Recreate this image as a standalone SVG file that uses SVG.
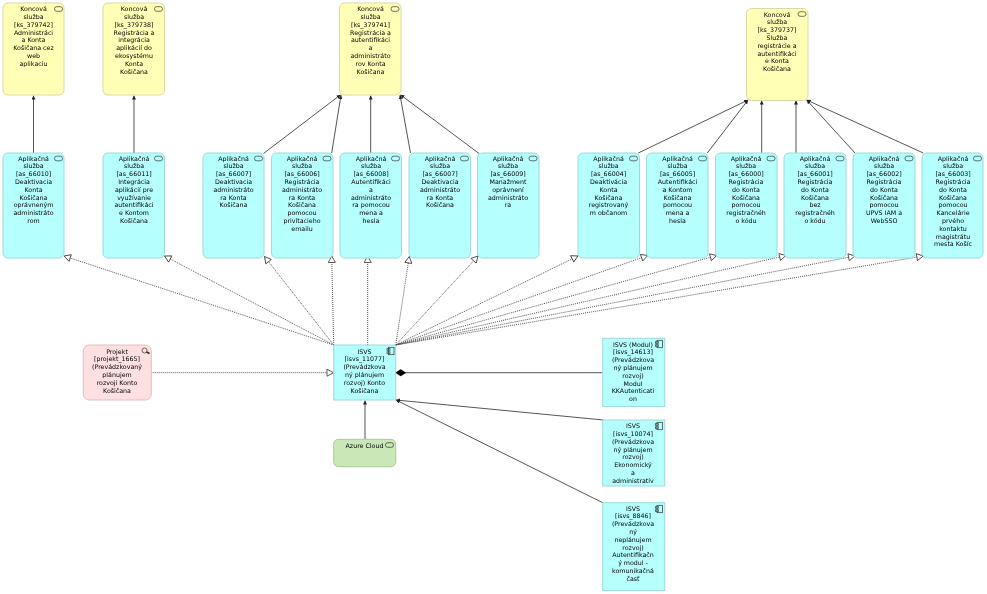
<svg xmlns="http://www.w3.org/2000/svg" width="987" height="594" viewBox="0 0 987 594">
<style>
text{font-family:"DejaVu Sans",sans-serif;font-size:6.3px;fill:#000;text-anchor:middle}
.y{fill:#ffffb5;stroke:#d9d9a6;stroke-width:1}
.c{fill:#b5ffff;stroke:#9fd9d9;stroke-width:1}
.p{fill:#ffe0e0;stroke:#e0bfbf;stroke-width:1}
.g{fill:#c9e7b7;stroke:#a9c99a;stroke-width:1}
.i{fill:none;stroke:#333;stroke-width:.7}
.s{fill:none;stroke:#555;stroke-width:1;marker-end:url(#a)}
.d{fill:none;stroke:#444;stroke-width:.9;stroke-dasharray:1 1;marker-end:url(#t)}
</style>
<defs>
<filter id="soft" x="0" y="0" width="1" height="1"><feGaussianBlur stdDeviation="0.35"/></filter>
<marker id="a" viewBox="0 0 6 6" refX="6" refY="3" markerWidth="4" markerHeight="4" markerUnits="userSpaceOnUse" orient="auto"><path d="M0 0L6 3L0 6z" fill="#222"/></marker>
<marker id="t" viewBox="0 0 8 8" refX="7.500" refY="4" markerWidth="8" markerHeight="8" markerUnits="userSpaceOnUse" orient="auto"><path d="M1 .5L7.500 4L1 7.500z" fill="#fff" stroke="#333" stroke-width=".8" stroke-dasharray="none"/></marker>
<g id="svc"><rect x="-4" y="-2.300" width="8" height="4.600" rx="2.200" class="i"/></g>
<g id="cmp"><rect x="-2" y="-3.700" width="5.500" height="7.400" class="i"/><rect x="-3.500" y="-2.300" width="3" height="1.500" class="i"/><rect x="-3.500" y=".8" width="3" height="1.500" class="i"/></g>
</defs>
<g filter="url(#soft)">
<rect width="987" height="594" fill="#fff"/>
<g id="connectors">
<path class="s" d="M33.500 153V95.500"/>
<path class="s" d="M134 153V95.500"/>
<path class="s" d="M263.500 153.500L340.500 94.800"/>
<path class="s" d="M331.700 153L341 95"/>
<path class="s" d="M370.700 153V95.500"/>
<path class="s" d="M410.500 153L400 95"/>
<path class="s" d="M479 153.500L400.500 94.800"/>
<path class="s" d="M638.300 153L748 100"/>
<path class="s" d="M707.300 153L748 100"/>
<path class="s" d="M761.700 153V100.500"/>
<path class="s" d="M796 153V100.500"/>
<path class="s" d="M855 153L806.700 100"/>
<path class="s" d="M923.300 153L806.700 100"/>
<path class="d" d="M333.700 345L64 256"/>
<path class="d" d="M333.700 345L164.500 256"/>
<path class="d" d="M333.700 345L264.500 256.500"/>
<path class="d" d="M333.700 345L331.700 256"/>
<path class="d" d="M367.700 345V256"/>
<path class="d" d="M395.700 345L409.300 256.500"/>
<path class="d" d="M395.700 345L478 256"/>
<path class="d" d="M395.700 345L578 256"/>
<path class="d" d="M395.700 345L647.700 255.500"/>
<path class="d" d="M395.700 345L716.700 255.500"/>
<path class="d" d="M395.700 345L786 255.500"/>
<path class="d" d="M395.700 345L855 256"/>
<path class="d" d="M395.700 345L923.300 256"/>
<path class="d" d="M151.300 372.700H333.500"/>
<path d="M602.700 372.700H400" fill="none" stroke="#555"/>
<path d="M395.200 372.700L400.700 369.200L406.200 372.700L400.700 376.200z" fill="#000"/>
<path class="s" d="M365 439.300V400.500"/>
<path class="s" d="M603.300 420L396 400"/>
<path class="s" d="M603.300 503L396 400"/>
</g>
<g id="ks_379742"><rect class="y" x="3" y="3" width="61" height="92" rx="5"/><use href="#svc" x="58.500" y="9"/><text><tspan x="33.500" y="11.200">Koncová</tspan><tspan x="33.500" dy="7.800">služba</tspan><tspan x="33.500" dy="7.800">[ks_379742]</tspan><tspan x="33.500" dy="7.800">Administráci</tspan><tspan x="33.500" dy="7.800">a Konta</tspan><tspan x="33.500" dy="7.800">Košičana cez</tspan><tspan x="33.500" dy="7.800">web</tspan><tspan x="33.500" dy="7.800">aplikaciu</tspan></text></g>
<g id="ks_379738"><rect class="y" x="103" y="3" width="61.500" height="92" rx="5"/><use href="#svc" x="158.500" y="9"/><text><tspan x="134" y="11.200">Koncová</tspan><tspan x="134" dy="7.800">služba</tspan><tspan x="134" dy="7.800">[ks_379738]</tspan><tspan x="134" dy="7.800">Registrácia a</tspan><tspan x="134" dy="7.800">integrácia</tspan><tspan x="134" dy="7.800">aplikácií do</tspan><tspan x="134" dy="7.800">ekosystému</tspan><tspan x="134" dy="7.800">Konta</tspan><tspan x="134" dy="7.800">Košičana</tspan></text></g>
<g id="ks_379741"><rect class="y" x="339.500" y="3" width="61.500" height="92" rx="5"/><use href="#svc" x="395" y="9"/><text><tspan x="370.500" y="11.200">Koncová</tspan><tspan x="370.500" dy="7.800">služba</tspan><tspan x="370.500" dy="7.800">[ks_379741]</tspan><tspan x="370.500" dy="7.800">Registrácia a</tspan><tspan x="370.500" dy="7.800">autentifikáci</tspan><tspan x="370.500" dy="7.800">a</tspan><tspan x="370.500" dy="7.800">administráto</tspan><tspan x="370.500" dy="7.800">rov Konta</tspan><tspan x="370.500" dy="7.800">Košičana</tspan></text></g>
<g id="ks_379737"><rect class="y" x="746.500" y="8.500" width="61.500" height="92" rx="5"/><use href="#svc" x="802" y="14"/><text><tspan x="777" y="16.500">Koncová</tspan><tspan x="777" dy="7.800">služba</tspan><tspan x="777" dy="7.800">[ks_379737]</tspan><tspan x="777" dy="7.800">Služba</tspan><tspan x="777" dy="7.800">registrácie a</tspan><tspan x="777" dy="7.800">autentifikáci</tspan><tspan x="777" dy="7.800">e Konta</tspan><tspan x="777" dy="7.800">Košičana</tspan></text></g>
<g id="as_66010"><rect class="c" x="3" y="153" width="61" height="105" rx="5"/><use href="#svc" x="58.500" y="158.500"/><text><tspan x="33.500" y="160.500">Aplikačná</tspan><tspan x="33.500" dy="7.800">služba</tspan><tspan x="33.500" dy="7.800">[as_66010]</tspan><tspan x="33.500" dy="7.800">Deaktivacia</tspan><tspan x="33.500" dy="7.800">Konta</tspan><tspan x="33.500" dy="7.800">Košičana</tspan><tspan x="33.500" dy="7.800">oprávneným</tspan><tspan x="33.500" dy="7.800">administráto</tspan><tspan x="33.500" dy="7.800">rom</tspan></text></g>
<g id="as_66011"><rect class="c" x="103" y="153" width="61.500" height="105" rx="5"/><use href="#svc" x="158.500" y="158.500"/><text><tspan x="134" y="160.500">Aplikačná</tspan><tspan x="134" dy="7.800">služba</tspan><tspan x="134" dy="7.800">[as_66011]</tspan><tspan x="134" dy="7.800">Integrácia</tspan><tspan x="134" dy="7.800">aplikácií pre</tspan><tspan x="134" dy="7.800">využívanie</tspan><tspan x="134" dy="7.800">autentifikáci</tspan><tspan x="134" dy="7.800">e Kontom</tspan><tspan x="134" dy="7.800">Košičana</tspan></text></g>
<g id="as_66007a"><rect class="c" x="203" y="153" width="61" height="105" rx="5"/><use href="#svc" x="258.500" y="158.500"/><text><tspan x="233.500" y="160.500">Aplikačná</tspan><tspan x="233.500" dy="7.800">služba</tspan><tspan x="233.500" dy="7.800">[as_66007]</tspan><tspan x="233.500" dy="7.800">Deaktivacia</tspan><tspan x="233.500" dy="7.800">administráto</tspan><tspan x="233.500" dy="7.800">ra Konta</tspan><tspan x="233.500" dy="7.800">Košičana</tspan></text></g>
<g id="as_66006"><rect class="c" x="271.500" y="153" width="61.500" height="105" rx="5"/><use href="#svc" x="327" y="158.500"/><text><tspan x="302" y="160.500">Aplikačná</tspan><tspan x="302" dy="7.800">služba</tspan><tspan x="302" dy="7.800">[as_66006]</tspan><tspan x="302" dy="7.800">Registrácia</tspan><tspan x="302" dy="7.800">administráto</tspan><tspan x="302" dy="7.800">ra Konta</tspan><tspan x="302" dy="7.800">Košičana</tspan><tspan x="302" dy="7.800">pomocou</tspan><tspan x="302" dy="7.800">privítacieho</tspan><tspan x="302" dy="7.800">emailu</tspan></text></g>
<g id="as_66008"><rect class="c" x="340" y="153" width="61.500" height="105" rx="5"/><use href="#svc" x="395.500" y="158.500"/><text><tspan x="371" y="160.500">Aplikačná</tspan><tspan x="371" dy="7.800">služba</tspan><tspan x="371" dy="7.800">[as_66008]</tspan><tspan x="371" dy="7.800">Autentifikáci</tspan><tspan x="371" dy="7.800">a</tspan><tspan x="371" dy="7.800">administráto</tspan><tspan x="371" dy="7.800">ra pomocou</tspan><tspan x="371" dy="7.800">mena a</tspan><tspan x="371" dy="7.800">hesla</tspan></text></g>
<g id="as_66007b"><rect class="c" x="409" y="153" width="61.500" height="105" rx="5"/><use href="#svc" x="464.500" y="158.500"/><text><tspan x="440" y="160.500">Aplikačná</tspan><tspan x="440" dy="7.800">služba</tspan><tspan x="440" dy="7.800">[as_66007]</tspan><tspan x="440" dy="7.800">Deaktivacia</tspan><tspan x="440" dy="7.800">administráto</tspan><tspan x="440" dy="7.800">ra Konta</tspan><tspan x="440" dy="7.800">Košičana</tspan></text></g>
<g id="as_66009"><rect class="c" x="477.500" y="153" width="61.500" height="105" rx="5"/><use href="#svc" x="533" y="158.500"/><text><tspan x="508" y="160.500">Aplikačná</tspan><tspan x="508" dy="7.800">služba</tspan><tspan x="508" dy="7.800">[as_66009]</tspan><tspan x="508" dy="7.800">Manažment</tspan><tspan x="508" dy="7.800">oprávnení</tspan><tspan x="508" dy="7.800">administráto</tspan><tspan x="508" dy="7.800">ra</tspan></text></g>
<g id="as_66004"><rect class="c" x="578" y="153" width="61.500" height="105" rx="5"/><use href="#svc" x="633.500" y="158.500"/><text><tspan x="608.500" y="160.500">Aplikačná</tspan><tspan x="608.500" dy="7.800">služba</tspan><tspan x="608.500" dy="7.800">[as_66004]</tspan><tspan x="608.500" dy="7.800">Deaktivácia</tspan><tspan x="608.500" dy="7.800">Konta</tspan><tspan x="608.500" dy="7.800">Košičana</tspan><tspan x="608.500" dy="7.800">registrovaný</tspan><tspan x="608.500" dy="7.800">m občanom</tspan></text></g>
<g id="as_66005"><rect class="c" x="646.500" y="153" width="61.500" height="105" rx="5"/><use href="#svc" x="702.500" y="158.500"/><text><tspan x="677.500" y="160.500">Aplikačná</tspan><tspan x="677.500" dy="7.800">služba</tspan><tspan x="677.500" dy="7.800">[as_66005]</tspan><tspan x="677.500" dy="7.800">Autentifikáci</tspan><tspan x="677.500" dy="7.800">a Kontom</tspan><tspan x="677.500" dy="7.800">Košičana</tspan><tspan x="677.500" dy="7.800">pomocou</tspan><tspan x="677.500" dy="7.800">mena a</tspan><tspan x="677.500" dy="7.800">hesla</tspan></text></g>
<g id="as_66000"><rect class="c" x="715.500" y="153" width="61.500" height="105" rx="5"/><use href="#svc" x="771" y="158.500"/><text><tspan x="746" y="160.500">Aplikačná</tspan><tspan x="746" dy="7.800">služba</tspan><tspan x="746" dy="7.800">[as_66000]</tspan><tspan x="746" dy="7.800">Registrácia</tspan><tspan x="746" dy="7.800">do Konta</tspan><tspan x="746" dy="7.800">Košičana</tspan><tspan x="746" dy="7.800">pomocou</tspan><tspan x="746" dy="7.800">registračnéh</tspan><tspan x="746" dy="7.800">o kódu</tspan></text></g>
<g id="as_66001"><rect class="c" x="784" y="153" width="62" height="105" rx="5"/><use href="#svc" x="840" y="158.500"/><text><tspan x="815" y="160.500">Aplikačná</tspan><tspan x="815" dy="7.800">služba</tspan><tspan x="815" dy="7.800">[as_66001]</tspan><tspan x="815" dy="7.800">Registrácia</tspan><tspan x="815" dy="7.800">do Konta</tspan><tspan x="815" dy="7.800">Košičana</tspan><tspan x="815" dy="7.800">bez</tspan><tspan x="815" dy="7.800">registračnéh</tspan><tspan x="815" dy="7.800">o kódu</tspan></text></g>
<g id="as_66002"><rect class="c" x="853" y="153" width="62" height="105" rx="5"/><use href="#svc" x="909" y="158.500"/><text><tspan x="884" y="160.500">Aplikačná</tspan><tspan x="884" dy="7.800">služba</tspan><tspan x="884" dy="7.800">[as_66002]</tspan><tspan x="884" dy="7.800">Registrácia</tspan><tspan x="884" dy="7.800">do Konta</tspan><tspan x="884" dy="7.800">Košičana</tspan><tspan x="884" dy="7.800">pomocou</tspan><tspan x="884" dy="7.800">UPVS IAM a</tspan><tspan x="884" dy="7.800">WebSSO</tspan></text></g>
<g id="as_66003"><rect class="c" x="922" y="153" width="61" height="105" rx="5"/><use href="#svc" x="977.500" y="158.500"/><text><tspan x="953" y="160.500">Aplikačná</tspan><tspan x="953" dy="7.800">služba</tspan><tspan x="953" dy="7.800">[as_66003]</tspan><tspan x="953" dy="7.800">Registrácia</tspan><tspan x="953" dy="7.800">do Konta</tspan><tspan x="953" dy="7.800">Košičana</tspan><tspan x="953" dy="7.800">pomocou</tspan><tspan x="953" dy="7.800">Kancelárie</tspan><tspan x="953" dy="7.800">prvého</tspan><tspan x="953" dy="7.800">kontaktu</tspan><tspan x="953" dy="7.800">magistrátu</tspan><tspan x="953" dy="7.800">mesta Košíc</tspan></text></g>
<g id="projekt_1665"><rect class="p" x="83.300" y="345" width="68" height="55" rx="6"/><circle cx="144.500" cy="350.500" r="2.500" class="i"/><path d="M146.500 352L149.500 353.500" stroke="#222" stroke-width="1.500"/><text><tspan x="117" y="353.500">Projekt</tspan><tspan x="117" dy="7.800">[projekt_1665]</tspan><tspan x="117" dy="7.800">(Prevádzkovaný</tspan><tspan x="117" dy="7.800">plánujem</tspan><tspan x="117" dy="7.800">rozvoji Konto</tspan><tspan x="117" dy="7.800">Košičana</tspan></text></g>
<g id="isvs_11077"><rect class="c" x="333.700" y="345" width="62" height="55"/><use href="#cmp" x="390.500" y="351"/><text><tspan x="364.500" y="353.500">ISVS</tspan><tspan x="364.500" dy="7.800">[isvs_11077]</tspan><tspan x="364.500" dy="7.800">(Prevádzkova</tspan><tspan x="364.500" dy="7.800">ný plánujem</tspan><tspan x="364.500" dy="7.800">rozvoj) Konto</tspan><tspan x="364.500" dy="7.800">Košičana</tspan></text></g>
<g id="azure"><rect class="g" x="333.700" y="439.300" width="62" height="27.400" rx="5"/><use href="#svc" x="389.500" y="445"/><text x="364.500" y="447.500">Azure Cloud</text></g>
<g id="isvs_14613"><rect class="c" x="602.700" y="338.300" width="62" height="68.200"/><use href="#cmp" x="659" y="344"/><text><tspan x="633" y="346.500">ISVS (Modul)</tspan><tspan x="633" dy="7.800">[isvs_14613]</tspan><tspan x="633" dy="7.800">(Prevádzkova</tspan><tspan x="633" dy="7.800">ný plánujem</tspan><tspan x="633" dy="7.800">rozvoj)</tspan><tspan x="633" dy="7.800">Modul</tspan><tspan x="633" dy="7.800">KKAutenticati</tspan><tspan x="633" dy="7.800">on</tspan></text></g>
<g id="isvs_10074"><rect class="c" x="602.700" y="420" width="62" height="66"/><use href="#cmp" x="659" y="426"/><text><tspan x="633" y="428.200">ISVS</tspan><tspan x="633" dy="7.800">[isvs_10074]</tspan><tspan x="633" dy="7.800">(Prevádzkova</tspan><tspan x="633" dy="7.800">ný plánujem</tspan><tspan x="633" dy="7.800">rozvoj)</tspan><tspan x="633" dy="7.800">Ekonomický</tspan><tspan x="633" dy="7.800">a</tspan><tspan x="633" dy="7.800">administratív</tspan></text></g>
<g id="isvs_8846"><rect class="c" x="602.700" y="502.700" width="62" height="87.800"/><use href="#cmp" x="659" y="509"/><text><tspan x="633" y="510.500">ISVS</tspan><tspan x="633" dy="7.800">[isvs_8846]</tspan><tspan x="633" dy="7.800">(Prevádzkova</tspan><tspan x="633" dy="7.800">ný</tspan><tspan x="633" dy="7.800">neplánujem</tspan><tspan x="633" dy="7.800">rozvoj)</tspan><tspan x="633" dy="7.800">Autentifikačn</tspan><tspan x="633" dy="7.800">ý modul -</tspan><tspan x="633" dy="7.800">komunikačná</tspan><tspan x="633" dy="7.800">časť</tspan></text></g>
</g>
</svg>
